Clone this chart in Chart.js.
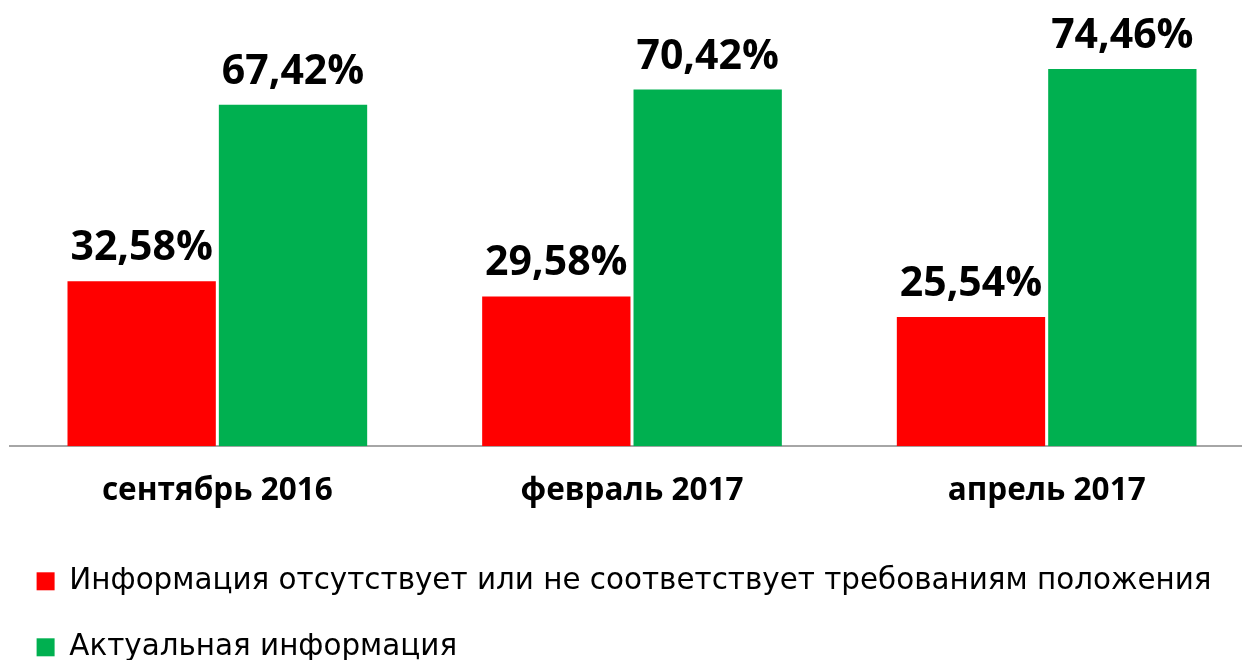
<!DOCTYPE html>
<html>
<head>
<meta charset="utf-8">
<script src="https://cdn.jsdelivr.net/npm/chart.js@4/dist/chart.umd.min.js"></script>
<style>
    html, body { margin: 0; padding: 0; background: #fff; overflow: hidden; }
    #wrap { position: relative; width: 1254px; height: 672px; }
</style>
</head>
<body>
<div id="wrap"><canvas id="periodChart"></canvas></div>
<script>
const periods = ['сентябрь 2016', 'февраль 2017', 'апрель 2017'];
const seriesNames = [
    'Информация отсутствует или не соответствует требованиям положения',
    'Актуальная информация'
];
const missingInfo = [32.58, 29.58, 25.54];
const actualInfo = [67.42, 70.42, 74.46];
const seriesColors = ['#ff0000', '#00b050'];

const FONT = "'Open Sans', 'DejaVu Sans', sans-serif";
const LEGEND_FONT = "'DejaVu Sans', sans-serif";

// подписи значений над столбцами (datalabels плагина нет, рисуем сами)
const valueLabels = {
    id: 'valueLabels',
    afterDatasetsDraw(chart) {
        const ctx = chart.ctx;
        ctx.save();
        ctx.font = `bold 41px ${FONT}`;
        ctx.fillStyle = '#000';
        ctx.textAlign = 'center';
        ctx.textBaseline = 'alphabetic';
        chart.data.datasets.forEach((ds, i) => {
            const meta = chart.getDatasetMeta(i);
            meta.data.forEach((bar, j) => {
                const txt = ds.data[j].toFixed(2).replace('.', ',') + '%';
                ctx.fillText(txt, bar.x, bar.y - 21);
            });
        });
        ctx.restore();
    }
};

const ctx = document.getElementById('periodChart').getContext('2d');
new Chart(ctx, {
    type: 'bar',
    data: {
        labels: periods,
        datasets: [
            { label: seriesNames[0], data: missingInfo, backgroundColor: seriesColors[0] },
            { label: seriesNames[1], data: actualInfo, backgroundColor: seriesColors[1] }
        ]
    },
    options: {
        responsive: true,
        maintainAspectRatio: false,
        animation: false,
        datasets: {
            bar: { categoryPercentage: 0.73, barPercentage: 0.98 }
        },
        layout: { padding: { top: 41, left: 0, right: 0, bottom: 0 } },
        scales: {
            x: {
                grid: { display: false },
                border: { display: true, color: '#a6a6a6', width: 2 },
                ticks: {
                    color: '#000',
                    padding: 18,
                    font: { family: FONT, size: 31.5, weight: 'bold', lineHeight: 1.2 }
                },
                afterFit(scale) { scale.height = 83.7; }
            },
            y: {
                min: 0,
                max: 80,
                grid: { display: false },
                border: { display: false },
                ticks: { display: false },
                afterFit(scale) { scale.width = 10; }
            }
        },
        plugins: {
            legend: {
                position: 'bottom',
                align: 'start',
                labels: {
                    boxWidth: 18,
                    boxHeight: 18,
                    padding: 36.6,
                    color: '#000',
                    font: { family: LEGEND_FONT, size: 29.4, lineHeight: 1.2 }
                }
            },
            tooltip: { enabled: false }
        }
    },
    plugins: [valueLabels]
});
</script>
</body>
</html>
